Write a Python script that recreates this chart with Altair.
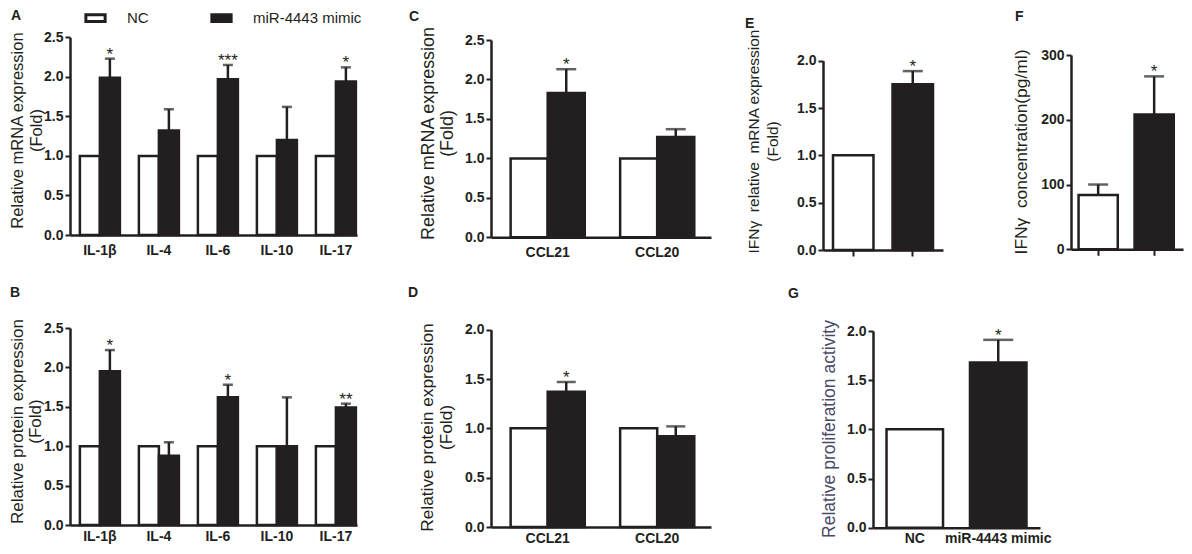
import altair as alt
import pandas as pd

GROUPS = ["NC", "miR-4443 mimic"]
FILLS = ["#ffffff", "#231f20"]
INK = "#231f20"
FONT = "Liberation Sans"

# Panel A - relative mRNA expression of cytokines
cytokines = ["IL-1β", "IL-4", "IL-6", "IL-10", "IL-17"]
a_nc = [1.0, 1.0, 1.0, 1.0, 1.0]
a_mimic = [1.99, 1.32, 1.97, 1.20, 1.94]
a_mimic_err = [2.23, 1.59, 2.15, 1.62, 2.12]
a_stars = ["*", "", "***", "", "*"]

# Panel B - relative protein expression of cytokines
b_nc = [1.0, 1.0, 1.0, 1.0, 1.0]
b_mimic = [1.95, 0.88, 1.62, 1.00, 1.49]
b_mimic_err = [2.22, 1.05, 1.78, 1.62, 1.54]
b_stars = ["*", "", "*", "", "**"]

# Panel C - relative mRNA expression of chemokines
chemokines = ["CCL21", "CCL20"]
c_nc = [1.0, 1.0]
c_mimic = [1.83, 1.27]
c_mimic_err = [2.13, 1.37]
c_stars = ["*", ""]

# Panel D - relative protein expression of chemokines
d_nc = [1.0, 1.0]
d_mimic = [1.37, 0.92]
d_mimic_err = [1.47, 1.02]
d_stars = ["*", ""]

# Panel E - IFNγ relative mRNA expression
e_values = [1.0, 1.75]
e_err = [None, 1.89]
e_stars = ["", "*"]

# Panel F - IFNγ concentration (pg/ml)
f_values = [84, 208]
f_err = [100, 267]
f_stars = ["", "*"]

# Panel G - relative proliferation activity
g_values = [1.0, 1.68]
g_err = [None, 1.91]
g_stars = ["", "*"]


def grouped_df(cats, nc, mimic, mimic_err, stars):
    rows = []
    for c, v0, v1, e1, s in zip(cats, nc, mimic, mimic_err, stars):
        rows.append({"cat": c, "group": GROUPS[0], "value": v0, "err": None, "star": ""})
        rows.append({"cat": c, "group": GROUPS[1], "value": v1, "err": e1, "star": s})
    return pd.DataFrame(rows)


def single_df(values, errs, stars):
    return pd.DataFrame({"group": GROUPS, "value": values, "err": errs, "star": stars})


def y_axis(title, values, fmt, extent, tpad, title_size, title_y, lh, title_color=INK):
    return alt.Axis(
        title=title, values=values, format=fmt, grid=False,
        minExtent=extent, maxExtent=extent, titlePadding=tpad, titleY=title_y,
        titleFontSize=title_size, titleFontWeight="normal", titleFont=FONT,
        titleColor=title_color, titleLineHeight=lh,
        labelFontSize=14, labelFontWeight="bold", labelFont=FONT, labelColor=INK,
        labelPadding=2, tickSize=5, tickWidth=2, tickColor=INK,
        domainWidth=2.5, domainColor=INK,
    )


def panel_title(letter, offset, dx):
    return alt.TitleParams(text=letter, anchor="start", frame="bounds", fontSize=14,
                           fontWeight="bold", font=FONT, color=INK, offset=offset, dx=dx)


def fill_enc(legend=None):
    return alt.Fill("group:N", scale=alt.Scale(domain=GROUPS, range=FILLS), legend=legend)


def layers(df, x, xo, yscale, yaxis, cap, legend=None):
    base = alt.Chart(df)
    enc = dict(x=x)
    if xo is not None:
        enc["xOffset"] = xo
    bars = base.mark_bar(stroke=INK, strokeWidth=2.5).encode(
        y=alt.Y("value:Q", scale=yscale, axis=yaxis), fill=fill_enc(legend), **enc)
    witherr = base.transform_filter("isValid(datum.err)")
    rule = witherr.mark_rule(color=INK, strokeWidth=2.5).encode(
        y=alt.Y("value:Q", scale=yscale, axis=yaxis), y2="err:Q", **enc)
    caps = witherr.mark_tick(color=INK, size=cap, thickness=2.5).encode(
        y=alt.Y("err:Q", scale=yscale, axis=yaxis), **enc)
    stars = base.transform_filter("datum.star != ''").mark_text(
        fontSize=17, font=FONT, color=INK, baseline="alphabetic", dy=1).encode(
        y=alt.Y("err:Q", scale=yscale, axis=yaxis), text="star:N", **enc)
    return alt.layer(bars, rule, caps, stars)


def grouped_panel(df, cats, letter, ytitle, tsize, ty, lh, ymax, yvals, width, xlen, top,
                  height, pin, pout, palign, cap, toff, tdx, extent, tpad, lpad, legend=None):
    x = alt.X("cat:N", sort=cats,
              scale=alt.Scale(domain=cats, range=[0, xlen], paddingInner=pin,
                              paddingOuter=pout, align=palign),
              axis=alt.Axis(title=None, labelAngle=0, ticks=False, labelPadding=lpad,
                            labelFontSize=14, labelFontWeight="bold", labelFont=FONT,
                            labelColor=INK, domainWidth=2.5, domainColor=INK, grid=False))
    xo = alt.XOffset("group:N", sort=GROUPS,
                     scale=alt.Scale(domain=GROUPS, paddingInner=0, paddingOuter=0))
    yscale = alt.Scale(domain=[0, ymax], range=[height, top], nice=False)
    yaxis = y_axis(ytitle, yvals, ".1f", extent, tpad, tsize, ty, lh)
    return layers(df, x, xo, yscale, yaxis, cap, legend).properties(
        width=width, height=height, title=panel_title(letter, toff, tdx))


def single_panel(df, letter, ytitle, tsize, ty, ymax, yvals, fmt, width, xlen, top, height,
                 pin, pout, palign, cap, toff, tdx, extent, tpad, show_labels, lpad=5,
                 title_color=INK):
    if show_labels:
        xaxis = alt.Axis(title=None, labelAngle=0, ticks=False, labelPadding=lpad,
                         labelFontSize=14, labelFontWeight="bold", labelFont=FONT,
                         labelColor=INK, domainWidth=2.5, domainColor=INK, grid=False)
    else:
        xaxis = alt.Axis(title=None, labels=False, ticks=True, tickSize=6, tickWidth=2,
                         tickColor=INK, domainWidth=2.5, domainColor=INK, grid=False)
    x = alt.X("group:N", sort=GROUPS,
              scale=alt.Scale(domain=GROUPS, range=[0, xlen], paddingInner=pin,
                              paddingOuter=pout, align=palign),
              axis=xaxis)
    yscale = alt.Scale(domain=[0, ymax], range=[height, top], nice=False)
    yaxis = y_axis(ytitle, yvals, fmt, extent, tpad, tsize, ty, 19, title_color)
    return layers(df, x, None, yscale, yaxis, cap).properties(
        width=width, height=height, title=panel_title(letter, toff, tdx))


def spacer(width, height):
    return alt.Chart(pd.DataFrame({"v": [0]})).mark_point(opacity=0).encode(
        x=alt.X("v:Q", axis=None), y=alt.Y("v:Q", axis=None)
    ).properties(width=width, height=height)


legend = alt.Legend(
    title=None, orient="none", legendX=18, legendY=-17.5, direction="horizontal",
    symbolType="M-1.75,-0.6H1.75V0.6H-1.75Z", symbolSize=121, symbolStrokeColor=INK,
    symbolStrokeWidth=3, labelFontSize=15, labelFont=FONT, labelColor=INK,
    labelOffset=24, columnPadding=56, padding=0,
)

yv25 = [0, 0.5, 1.0, 1.5, 2.0, 2.5]
yv20 = [0, 0.5, 1.0, 1.5, 2.0]

# grid cells: row 1 = A | C | E | spacer | F ; row 2 = B | D | spacer | G
pA = grouped_panel(grouped_df(cytokines, a_nc, a_mimic, a_mimic_err, a_stars), cytokines, "A",
                   ["Relative mRNA expression", "(Fold)"], 16.5, 102, 19, 2.5, yv25,
                   421, 287, 9.3, 207, 0.322, 0.093, 0.9, 10, 5, 2, 23, 3, 8, legend=legend)
pC = grouped_panel(grouped_df(chemokines, c_nc, c_mimic, c_mimic_err, c_stars), chemokines, "C",
                   ["Relative mRNA expression", "(Fold)"], 17.9, 105, 19, 2.5, yv25,
                   332, 220, 12, 209.3, 0.323, 0.166, 0.54, 20, 2, -10, 32, 3, 8)
pE = single_panel(single_df(e_values, e_err, e_stars), "E",
                  ["IFNγ\u00a0 relative\u00a0 mRNA expression", "(Fold)"], 15.5, 113, 2.0, yv20, ".1f",
                  50, 120, 32.7, 222, 0.32, 0.168, 0.5, 20, -3, -1, 40, 3, False)
pF = single_panel(single_df(f_values, f_err, f_stars), "F",
                  "IFNγ\u00a0 concentration(pg/ml)", 17.4, 123.5, 300, [0, 100, 200, 300], "d",
                  112, 112, 27, 221.3, 0.30, 0.15, 0.45, 20, 4, 3, 38, 3, False)
pB = grouped_panel(grouped_df(cytokines, b_nc, b_mimic, b_mimic_err, b_stars), cytokines, "B",
                   ["Relative protein expression", "(Fold)"], 17, 171, 18, 2.5, yv25,
                   421, 287, 78, 275, 0.322, 0.093, 0.9, 10, -50, 2, 23, 3, 4)
pD = grouped_panel(grouped_df(chemokines, d_nc, d_mimic, d_mimic_err, d_stars), chemokines, "D",
                   ["Relative protein expression", "(Fold)"], 17.3, 177, 19, 2.0, yv20,
                   332, 220, 79.7, 277, 0.323, 0.166, 0.54, 19, -50, -10, 33, 3, 4)
pG = single_panel(single_df(g_values, g_err, g_stars), "G",
                  "Relative proliferation activity", 17.5, 178.5, 2.0, yv20, ".1f",
                  167, 167, 81, 277.7, 0.323, 0.162, 0.5, 30, -51, -32, 32, 3, True, lpad=4,
                  title_color="#4a4a68")

chart = alt.concat(
    pA, pC, pE, spacer(198, 1), pF,
    pB, pD, spacer(50, 1), pG,
    columns=5, spacing=0, align="none", bounds="flush",
).resolve_scale(
    xOffset="independent"
).properties(
    autosize=alt.AutoSizeParams(type="none"),
    padding={"left": 62, "top": 20, "right": 1114, "bottom": 518},
).configure(font=FONT).configure_view(stroke=None)

chart.save("out.html", embed_options={"renderer": "svg", "actions": False})
